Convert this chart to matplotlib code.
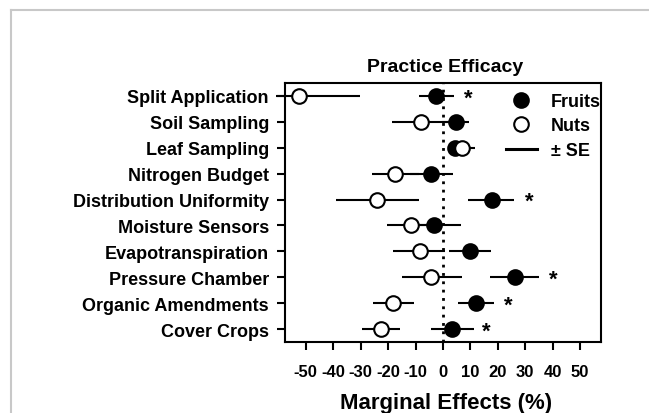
#!/usr/bin/env python3

import numpy as np
import matplotlib
matplotlib.use("Agg")
import matplotlib.pyplot as plt
from matplotlib.lines import Line2D

plt.rcParams['font.family'] = ['Liberation Sans', 'DejaVu Sans']
plt.rcParams['font.weight'] = 'bold'

practices = ["Split Application", "Soil Sampling", "Leaf Sampling",
             "Nitrogen Budget", "Distribution Uniformity", "Moisture Sensors",
             "Evapotranspiration", "Pressure Chamber", "Organic Amendments",
             "Cover Crops"]

# marginal effects (%) with lower / upper ends of the +/- SE bars
fruits_mean = [-2.4, 4.6, 4.4, -4.2, 17.7, -3.4, 9.7, 26.2, 11.9, 3.4]
fruits_lo = [-8.8, -0.2, 2.4, -12.0, 9.3, -13.5, 2.2, 17.0, 5.5, -4.2]
fruits_hi = [4.0, 9.4, 6.4, 3.6, 25.9, 6.7, 17.4, 35.0, 18.6, 11.2]

nuts_mean = [-52.5, -8.1, 7.1, -17.3, -24.1, -11.5, -8.5, -4.2, -18.2, -22.7]
nuts_lo = [-60.7, -18.6, 2.6, -25.9, -38.9, -20.4, -18.2, -15.0, -25.5, -29.4]
nuts_hi = [-30.2, 2.4, 11.6, -8.7, -8.8, -2.6, 0.6, 6.9, -10.7, -15.8]

# significance stars (row index, x position)
star_rows = [0, 4, 7, 8, 9]
star_x = [9.4, 31.6, 40.4, 23.7, 15.8]

xticks = [-50, -40, -30, -20, -10, 0, 10, 20, 30, 40, 50]


def main():
    fig = plt.figure(figsize=(6.49, 4.14), dpi=100)
    ax = fig.add_axes([0.439, 0.1715, 0.487, 0.6256])

    y = np.arange(len(practices))

    ax.axvline(0, color='black', lw=2, linestyle=(0, (1, 2)), zorder=1)

    ax.hlines(y, fruits_lo, fruits_hi, color='black', lw=1.5, zorder=2,
              clip_on=False)
    ax.hlines(y, nuts_lo, nuts_hi, color='black', lw=1.5, zorder=2,
              clip_on=False)
    ax.plot(fruits_mean, y, 'o', ms=10.5, mfc='black', mec='black', mew=1.5,
            ls='none', zorder=3)
    ax.plot(nuts_mean, y, 'o', ms=10.5, mfc='white', mec='black', mew=1.5,
            ls='none', zorder=4)

    for r, sx in zip(star_rows, star_x):
        ax.annotate('*', (sx, y[r]), xytext=(0, -5.5), textcoords='offset points',
                    ha='center', va='baseline', fontsize=16, fontweight='bold')

    ax.set_xlim(-57.6, 57.6)
    ax.set_ylim(len(practices) - 0.5, -0.5)
    ax.set_xticks(xticks)
    ax.set_xticklabels([str(t) for t in xticks])
    ax.set_yticks(y)
    ax.set_yticklabels(practices)
    ax.tick_params(axis='x', length=6, width=1.5, pad=10, labelsize=12)
    ax.tick_params(axis='y', length=6, width=1.5, pad=5.5, labelsize=13)
    for s in ax.spines.values():
        s.set_linewidth(1.5)

    handles = [
        Line2D([], [], marker='o', ms=10.5, mfc='black', mec='black', mew=1.5, ls='none'),
        Line2D([], [], marker='o', ms=10.5, mfc='white', mec='black', mew=1.5, ls='none'),
        Line2D([], [], color='black', lw=2.2),
    ]
    ax.legend(handles, ['Fruits', 'Nuts', '\u00b1 SE'], loc='upper right',
              bbox_to_anchor=(1.0, 0.962), frameon=False, fontsize=13,
              handlelength=1.7, handletextpad=0.8, labelspacing=0.42,
              borderpad=0, borderaxespad=0)

    fig.text(0.686, 0.826, 'Practice Efficacy', ha='center', va='baseline',
             fontsize=14, fontweight='bold')
    fig.text(0.687, 0.001, 'Marginal Effects (%)', ha='center', va='bottom',
             fontsize=16, fontweight='bold')

    # light grey frame at the top and left edge
    fig.add_artist(Line2D([0.0177, 1.0], [0.9746, 0.9746], color='#c8c8c8', lw=1.5))
    fig.add_artist(Line2D([0.0177, 0.0177], [0.0, 0.9746], color='#c8c8c8', lw=1.5))

    fig.savefig('out.png', dpi=100)


if __name__ == "__main__":
    main()
